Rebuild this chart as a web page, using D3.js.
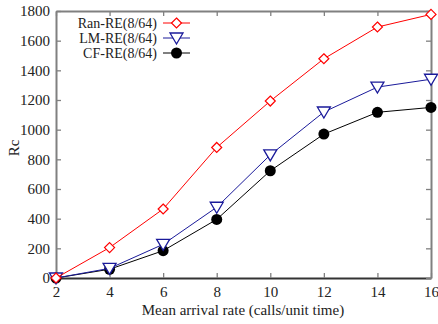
<!DOCTYPE html>
<html><head><meta charset="utf-8">
<script src="https://cdn.jsdelivr.net/npm/d3@7"></script>
<style>body{margin:0;background:#fff}svg text{font-family:"Liberation Serif","Times New Roman",serif;fill:#222}</style>
</head><body><svg id="c" width="438" height="324"></svg>
<script>
const xValues = [2,4,6,8,10,12,14,16];
const ranRE = [0,205,465,880,1193,1478,1692,1777];
const lmRE = [0,65,227,477,830,1119,1287,1340];
const cfRE = [0,59,184,395,723,970,1117,1150];
const xTicks = [2,4,6,8,10,12,14,16];
const yTicks = [0,200,400,600,800,1000,1200,1400,1600,1800];
const seriesNames = ["Ran-RE(8/64)","LM-RE(8/64)","CF-RE(8/64)"];

const svg = d3.select("#c");
const L=56,R=431,T=11,B=278;
const x = d3.scaleLinear().domain([2,16]).range([L,R]);
const y = d3.scaleLinear().domain([0,1800]).range([B,T]);
const axisColor="#808080";

const g = svg.append("g");
function styleAxis(sel){sel.selectAll("path").attr("stroke",axisColor).attr("stroke-width",2);
 sel.selectAll("line").attr("stroke",axisColor).attr("stroke-width",1.3);}
const fmt=d3.format("d");
const ax1=g.append("g").attr("transform",`translate(0,${B})`).call(d3.axisBottom(x).tickValues(xTicks).tickSize(-5).tickSizeOuter(0).tickPadding(8).tickFormat(fmt));
const ax2=g.append("g").attr("transform",`translate(0,${T})`).call(d3.axisTop(x).tickValues(xTicks).tickSize(-5).tickSizeOuter(0).tickFormat(""));
const ay1=g.append("g").attr("transform",`translate(${L},0)`).call(d3.axisLeft(y).tickValues(yTicks).tickSize(-5).tickSizeOuter(0).tickPadding(6).tickFormat(fmt));
const ay2=g.append("g").attr("transform",`translate(${R},0)`).call(d3.axisRight(y).tickValues(yTicks).tickSize(-5).tickSizeOuter(0).tickFormat(""));
[ax1,ax2,ay1,ay2].forEach(styleAxis);
ax1.select("path").attr("stroke","#333");
g.selectAll("text").attr("font-size",15).attr("fill","#222");

const series=[
 {name:seriesNames[0],vals:ranRE,color:"#ff0000",marker:"diamond"},
 {name:seriesNames[1],vals:lmRE,color:"#1a1a9a",marker:"tri"},
 {name:seriesNames[2],vals:cfRE,color:"#000000",marker:"circle"}];

function drawMarker(sel,type,color){
 if(type==="diamond") sel.append("path").attr("d","M0,-5L5,0L0,5L-5,0Z").attr("fill","#fff").attr("stroke",color).attr("stroke-width",1.2);
 else if(type==="tri") sel.append("path").attr("d","M-6.5,-5L6.5,-5L0,6Z").attr("fill","#fff").attr("stroke",color).attr("stroke-width",1.3);
 else sel.append("circle").attr("r",5.5).attr("fill",color);
}
const line=d3.line().x((d,i)=>x(xValues[i])).y(d=>y(d));
[2,1,0].forEach(k=>{
 const s=series[k];
 svg.append("path").attr("d",line(s.vals)).attr("fill","none").attr("stroke",s.color).attr("stroke-width",1);
 s.vals.forEach((v,i)=>{
  const m=svg.append("g").attr("transform",`translate(${x(xValues[i])},${y(v)})`);
  drawMarker(m,s.marker,s.color);
 });
});

const ly=[23,38,53];
series.forEach((s,i)=>{
 svg.append("text").attr("x",157).attr("y",ly[i]).attr("dy","0.35em").attr("text-anchor","end").attr("font-size",14).text(s.name);
 svg.append("line").attr("x1",163).attr("x2",190).attr("y1",ly[i]).attr("y2",ly[i]).attr("stroke",s.color).attr("stroke-width",1);
 const m=svg.append("g").attr("transform",`translate(176.5,${ly[i]})`);
 drawMarker(m,s.marker,s.color);
});

svg.append("text").attr("x",243).attr("y",315).attr("text-anchor","middle").attr("font-size",15).text("Mean arrival rate (calls/unit time)");
svg.append("text").attr("transform","translate(19,148) rotate(-90)").attr("text-anchor","middle").attr("font-size",15).text("Rc");
</script></body></html>
